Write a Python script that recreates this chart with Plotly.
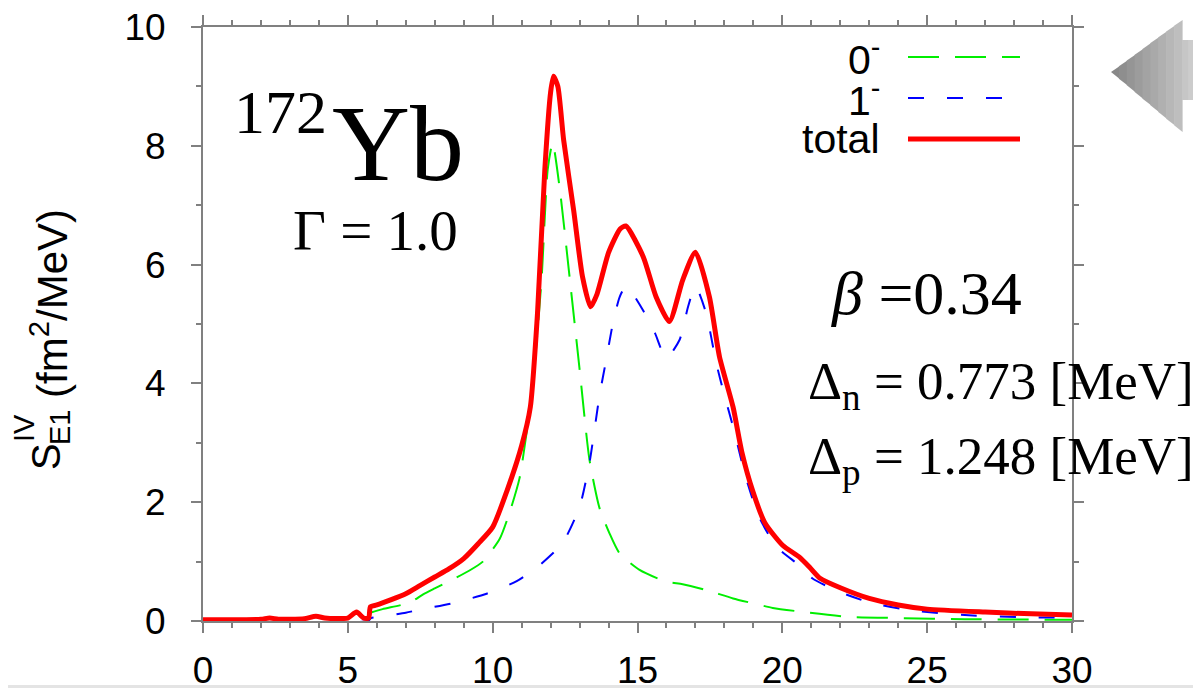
import plotly.graph_objects as go

# ---------------- data ----------------
e_total = [0.0, 1.0, 2.0, 2.3, 2.6, 3.0, 3.5, 3.9, 4.2, 4.6, 5.0, 5.3, 5.55, 5.72, 5.78,
           6.0, 6.5, 7.0, 7.5, 8.0, 8.5, 9.0, 9.5, 10.0, 10.5, 11.0, 11.3, 11.55, 11.8,
           12.0, 12.1, 12.25, 12.45, 12.8, 13.1, 13.38, 13.6, 14.0, 14.4, 14.6, 15.2,
           15.64, 16.1, 16.56, 17.0, 17.48, 17.83, 18.3, 18.6, 18.97, 19.4, 20.0, 20.6,
           20.95, 21.3, 22.0, 23.0, 24.0, 25.0, 27.0, 28.6, 30.0]
s_total = [0.02, 0.02, 0.03, 0.05, 0.03, 0.03, 0.04, 0.08, 0.05, 0.04, 0.05, 0.15, 0.05, 0.05, 0.24,
           0.27, 0.36, 0.46, 0.60, 0.74, 0.88, 1.05, 1.30, 1.58, 2.20, 2.95, 3.60, 5.20, 7.60,
           8.90, 9.17, 9.00, 8.10, 6.90, 5.80, 5.29, 5.50, 6.20, 6.60, 6.65, 6.13,
           5.46, 5.04, 5.74, 6.21, 5.46, 4.45, 3.60, 2.85, 2.20, 1.65, 1.28, 1.07,
           0.90, 0.72, 0.56, 0.38, 0.27, 0.20, 0.15, 0.12, 0.10]

e_0m = [5.78, 6.2, 7.14, 7.6, 8.0, 8.62, 9.2, 9.66, 10.24, 10.6, 10.93, 11.15, 11.38, 11.69,
        11.9, 12.07, 12.31, 12.66, 13.0, 13.34, 13.69, 14.03, 14.38, 15.07, 16.0, 16.56,
        17.37, 18.3, 18.97, 19.67, 20.59, 22.3, 24.0, 26.3, 30.0]
s_0m = [0.14, 0.20, 0.31, 0.45, 0.55, 0.70, 0.85, 1.00, 1.38, 1.85, 2.41, 3.10, 3.94, 5.77,
        7.60, 8.05, 7.30, 5.77, 4.24, 2.72, 1.90, 1.48, 1.14, 0.86, 0.66, 0.62,
        0.52, 0.38, 0.30, 0.22, 0.16, 0.07, 0.05, 0.03, 0.02]

e_1m = [0.0, 5.7, 5.8, 6.1, 7.0, 7.48, 8.62, 9.79, 10.83, 11.62, 12.41, 13.0, 13.34, 13.69,
        13.92, 14.15, 14.38, 14.6, 14.85, 15.18, 15.6, 15.99, 16.45, 16.75, 17.0, 17.37,
        17.72, 18.0, 18.3, 18.75, 19.2, 19.8, 20.6, 21.03, 21.97, 23.1, 24.6, 26.3, 28.6, 30.0]
s_1m = [0.0, 0.0, 0.05, 0.07, 0.14, 0.19, 0.30, 0.46, 0.67, 0.94, 1.31, 1.92, 2.66, 3.80,
        4.40, 5.01, 5.45, 5.64, 5.50, 5.24, 4.85, 4.42, 4.73, 5.30, 5.64, 5.18,
        4.34, 3.80, 3.27, 2.40, 1.75, 1.25, 0.93, 0.72, 0.49, 0.30, 0.17, 0.10, 0.06, 0.06]

x_ticks = [0, 5, 10, 15, 20, 25, 30]
y_ticks = [0, 2, 4, 6, 8, 10]
legend_labels = ["0<sup>-</sup>", "1<sup>-</sup>", "total"]

# ---------------- layout helpers ----------------
PAGE_W, PAGE_H = 1201, 688
BODY = 8                      # default page margin around the plot div
W, H = PAGE_W - BODY, PAGE_H - BODY
L, R, T, B = 203, 1072, 27, 621   # plot area in page pixels


def px(x):
    return (x - L) / (R - L)


def py(y):
    return (B - y) / (B - T)


GREEN = "#00ee00"
BLUE = "#0000ff"
RED = "#ff0000"
AX = "#808080"
SANS = "Liberation Sans, Arial, sans-serif"
SERIF = "Liberation Serif, Times New Roman, serif"

fig = go.Figure()
fig.add_trace(go.Scatter(x=e_0m, y=s_0m, mode="lines", line=dict(color=GREEN, width=2, dash="31px,16px",
                                                                    shape="spline", smoothing=0.6),
                         name="0-", showlegend=False))
fig.add_trace(go.Scatter(x=e_1m, y=s_1m, mode="lines", line=dict(color=BLUE, width=2, dash="16px,23px",
                                                                    shape="spline", smoothing=0.6),
                         name="1-", showlegend=False))
fig.add_trace(go.Scatter(x=e_total, y=s_total, mode="lines", line=dict(color=RED, width=5,
                                                                        shape="spline", smoothing=0.6),
                         name="total", showlegend=False))

axis_common = dict(
    ticks="outside", ticklen=10, tickwidth=2, tickcolor=AX,
    showline=True, linecolor=AX, linewidth=2, mirror="allticks",
    showgrid=False, zeroline=False, automargin=False, ticklabeloverflow="allow",
    tickfont=dict(family=SANS, size=37, color="black"),
)
fig.update_xaxes(range=[0, 30], tickvals=x_ticks, ticktext=[str(v) for v in x_ticks],
                 minor=dict(dtick=1, tick0=0, ticks="outside", ticklen=5, tickwidth=1.5, tickcolor=AX),
                 ticklabelstandoff=6, **axis_common)
fig.update_yaxes(range=[0, 10], tickvals=y_ticks, ticktext=[str(v) for v in y_ticks],
                 minor=dict(dtick=1, tick0=0, ticks="outside", ticklen=5, tickwidth=1.5, tickcolor=AX),
                 ticklabelstandoff=18, **axis_common)

ann = []
shapes = []

# legend (gnuplot style: label left, sample right)
leg_y = [57, 98, 139]
leg_style = [dict(color=GREEN, width=2, dash="31px,16px"),
             dict(color=BLUE, width=2, dash="16px,23px"),
             dict(color=RED, width=5)]
for lab, yy, st in zip(legend_labels, leg_y, leg_style):
    ann.append(dict(x=px(882), y=py(yy), xref="paper", yref="paper", text=lab, showarrow=False,
                    xanchor="right", yanchor="middle", font=dict(family=SANS, size=41, color="black")))
    shapes.append(dict(type="line", xref="paper", yref="paper", x0=px(908), x1=px(1020),
                       y0=py(yy), y1=py(yy), line=st))

# y-axis title pieces
ann.append(dict(x=px(49), y=py(304), xref="paper", yref="paper", text="(fm<sup>2</sup>/MeV)",
                textangle=-90, showarrow=False, xanchor="center", yanchor="middle",
                font=dict(family=SANS, size=42, color="black")))
ann.append(dict(x=px(46), y=py(457), xref="paper", yref="paper", text="S",
                textangle=-90, showarrow=False, xanchor="center", yanchor="middle",
                font=dict(family=SANS, size=40, color="black")))
ann.append(dict(x=px(60), y=py(428), xref="paper", yref="paper", text="E1",
                textangle=-90, showarrow=False, xanchor="center", yanchor="middle",
                font=dict(family=SANS, size=29, color="black")))
ann.append(dict(x=px(24), y=py(428), xref="paper", yref="paper", text="IV",
                textangle=-90, showarrow=False, xanchor="center", yanchor="middle",
                font=dict(family=SANS, size=29, color="black")))

# nucleus label and parameters
ann.append(dict(x=px(329), y=py(112), xref="paper", yref="paper", text="172", showarrow=False,
                xanchor="right", yanchor="middle", font=dict(family=SERIF, size=62, color="black")))
ann.append(dict(x=px(330), y=py(143), xref="paper", yref="paper", text="Yb", showarrow=False,
                xanchor="left", yanchor="middle", font=dict(family=SERIF, size=108, color="black")))
ann.append(dict(x=px(375), y=py(230), xref="paper", yref="paper", text="Γ = 1.0", showarrow=False,
                xanchor="center", yanchor="middle", font=dict(family=SERIF, size=57, color="black")))
ann.append(dict(x=px(926), y=py(293), xref="paper", yref="paper", text="<i>β</i> =0.34", showarrow=False,
                xanchor="center", yanchor="middle", font=dict(family=SERIF, size=62, color="black")))
ann.append(dict(x=px(806), y=py(385), xref="paper", yref="paper", text="Δ<sub>n</sub> = 0.773 [MeV]",
                showarrow=False, xanchor="left", yanchor="middle",
                font=dict(family=SERIF, size=53, color="black")))
ann.append(dict(x=px(806), y=py(460), xref="paper", yref="paper", text="Δ<sub>p</sub> = 1.248 [MeV]",
                showarrow=False, xanchor="left", yanchor="middle",
                font=dict(family=SERIF, size=53, color="black")))

# decorative gradient arrow (top right)
tip_x, tip_y, head_x, head_top, head_bot = 1111, 72, 1182, 20, 132
shaft_top, shaft_bot, right_x = 40, 100, PAGE_W
n_head = 9
for i in range(n_head):
    xa = tip_x + (head_x - tip_x) * i / n_head
    xb = tip_x + (head_x - tip_x) * (i + 1) / n_head
    ta = tip_y - (xa - tip_x) * (tip_y - head_top) / (head_x - tip_x)
    tb = tip_y - (xb - tip_x) * (tip_y - head_top) / (head_x - tip_x)
    ba = tip_y + (xa - tip_x) * (head_bot - tip_y) / (head_x - tip_x)
    bb = tip_y + (xb - tip_x) * (head_bot - tip_y) / (head_x - tip_x)
    g = int(0x88 + (0xbe - 0x88) * i / (n_head - 1))
    col = "#%02x%02x%02x" % (g, g, g)
    path = "M %f,%f L %f,%f L %f,%f L %f,%f Z" % (px(xa), py(ta), px(xb + 0.6), py(tb), px(xb + 0.6), py(bb),
                                                  px(xa), py(ba))
    shapes.append(dict(type="path", xref="paper", yref="paper", path=path, fillcolor=col,
                       line=dict(width=0), layer="above"))
n_sh = 3
for i in range(n_sh):
    xa = head_x + (right_x - head_x) * i / n_sh
    xb = head_x + (right_x - head_x) * (i + 1) / n_sh
    g = int(0xc6 + (0xd2 - 0xc6) * i / (n_sh - 1))
    col = "#%02x%02x%02x" % (g, g, g)
    shapes.append(dict(type="rect", xref="paper", yref="paper", x0=px(xa), x1=px(xb + 0.6),
                       y0=py(shaft_bot), y1=py(shaft_top), fillcolor=col, line=dict(width=0), layer="above"))

# light grey strip at the very bottom
shapes.append(dict(type="rect", xref="paper", yref="paper", x0=px(0), x1=px(PAGE_W), y0=py(PAGE_H),
                   y1=py(685), fillcolor="#e4e4e4", line=dict(width=0), layer="above"))

fig.update_layout(
    width=W, height=H,
    margin=dict(l=L - BODY, r=W - (R - BODY), t=T - BODY, b=H - (B - BODY), pad=0, autoexpand=False),
    paper_bgcolor="white", plot_bgcolor="white",
    annotations=ann, shapes=shapes, showlegend=False,
)

fig.write_html("out.html")
